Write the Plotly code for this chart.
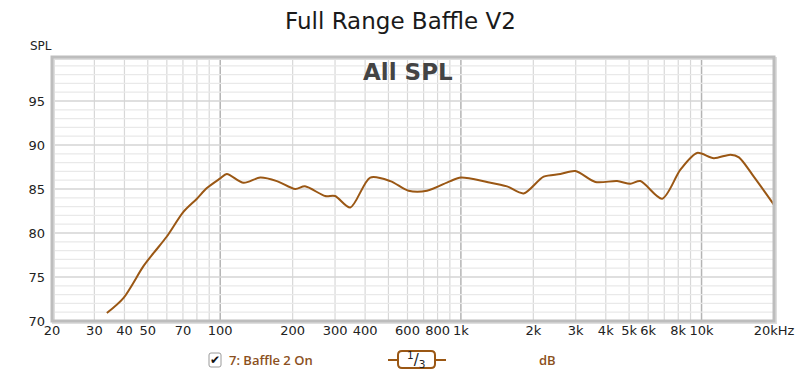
import plotly.graph_objects as go
import math

# ---- data ----
freq_hz = [33.8, 39.6, 47.9, 52.8, 60, 70.3, 80, 88, 100, 106.5, 125, 146.6, 172, 205, 225,
           273, 300, 347, 420, 509, 606, 723, 903, 1000, 1284, 1555, 1823, 2208, 2590, 2990,
           3620, 4457, 5060, 5570, 6856, 8170, 9580, 11240, 13190, 14300, 16480, 20000]
spl_db = [70.9, 72.6, 76.2, 77.7, 79.6, 82.4, 83.9, 85.1, 86.2, 86.7, 85.7, 86.3, 85.9, 85.0, 85.3,
          84.2, 84.2, 82.9, 86.3, 85.9, 84.8, 84.8, 85.9, 86.3, 85.8, 85.3, 84.5, 86.4, 86.7, 87.05,
          85.8, 85.9, 85.6, 85.9, 83.9, 87.2, 89.1, 88.5, 88.9, 88.6, 86.4, 83.2]

x_tick_vals = [20, 30, 40, 50, 70, 100, 200, 300, 400, 600, 800, 1000, 2000, 3000, 4000,
               5000, 6000, 8000, 10000, 20000]
x_tick_text = ["20", "30", "40", "50", "70", "100", "200", "300", "400", "600", "800", "1k",
               "2k", "3k", "4k", "5k", "6k", "8k", "10k", "20kHz"]
y_tick_vals = [70, 75, 80, 85, 90, 95]
y_tick_text = ["70", "75", "80", "85", "90", "95"]

series_name = "7: Baffle 2 On"
line_color = "#9A5714"
text_brown = "#8B5020"
FONT = "DejaVu Sans"

fig = go.Figure()

fig.add_trace(go.Scatter(
    x=freq_hz, y=spl_db, mode="lines", name=series_name,
    line=dict(color=line_color, width=2, shape="spline", smoothing=0.8),
    showlegend=False, hoverinfo="skip"))

W, H = 800, 376
L, R, T, B = 52, 26, 57, 55
pw, ph = W - L - R, H - T - B
def px(xp):
    return (xp - L) / pw
def py(yp):
    return (H - B - yp) / ph

def rounded_rect(x0, y0, x1, y1, r):
    pts = [
        f"M {px(x0 + r)},{py(y0)}",
        f"L {px(x1 - r)},{py(y0)}",
        f"Q {px(x1)},{py(y0)} {px(x1)},{py(y0 + r)}",
        f"L {px(x1)},{py(y1 - r)}",
        f"Q {px(x1)},{py(y1)} {px(x1 - r)},{py(y1)}",
        f"L {px(x0 + r)},{py(y1)}",
        f"Q {px(x0)},{py(y1)} {px(x0)},{py(y1 - r)}",
        f"L {px(x0)},{py(y0 + r)}",
        f"Q {px(x0)},{py(y0)} {px(x0 + r)},{py(y0)}",
        "Z",
    ]
    return " ".join(pts)

shapes = []
# vertical grid lines
grid_freqs = []
for dec in [10, 100, 1000, 10000]:
    for m in range(1, 10):
        f = dec * m
        if 20 <= f <= 20000:
            grid_freqs.append(f)
for f in grid_freqs:
    major = f in (100, 1000, 10000)
    shapes.append(dict(type="line", xref="x", yref="paper", x0=f, x1=f, y0=0, y1=1,
                       line=dict(color="#b4b4b4" if major else "#d8d8d8", width=1.5 if major else 1.2),
                       layer="below"))
# horizontal grid lines
for v in range(71, 100):
    major = v % 5 == 0
    shapes.append(dict(type="line", xref="paper", yref="y", x0=0, x1=1, y0=v, y1=v,
                       line=dict(color="#d4d4d4" if major else "#e9e9e9", width=1.5 if major else 1.2),
                       layer="below"))
# frame (shadow + border)
shapes.append(dict(type="rect", xref="paper", yref="paper", x0=px(L + 1.5), x1=px(W - R + 1.5), y0=py(H - B + 1.5), y1=py(T + 1.5),
                   line=dict(color="#dedede", width=3), layer="above"))
shapes.append(dict(type="rect", xref="paper", yref="paper", x0=0, x1=1, y0=0, y1=1,
                   line=dict(color="#bdbdbd", width=3), layer="above"))

# checkbox
shapes.append(dict(type="path", xref="paper", yref="paper", path=rounded_rect(209, 353, 221, 367, 2),
                   line=dict(color="#9a9a9a", width=1), fillcolor="white"))
# smoothing box
shapes.append(dict(type="line", xref="paper", yref="paper", x0=px(388), x1=px(398), y0=py(360), y1=py(360),
                   line=dict(color=line_color, width=2)))
shapes.append(dict(type="line", xref="paper", yref="paper", x0=px(435), x1=px(446), y0=py(360), y1=py(360),
                   line=dict(color=line_color, width=2)))
shapes.append(dict(type="path", xref="paper", yref="paper", path=rounded_rect(398, 351, 435, 368, 4),
                   line=dict(color=line_color, width=2), fillcolor="white"))

annotations = [
    dict(text="Full Range Baffle V2", xref="paper", yref="paper", x=px(400), y=py(21),
         showarrow=False, font=dict(family=FONT, size=23, color="#1a1a1a"), xanchor="center", yanchor="middle"),
    dict(text="<b>All SPL</b>", xref="paper", yref="paper", x=px(408), y=py(72),
         showarrow=False, font=dict(family=FONT, size=23, color="#444444"), xanchor="center", yanchor="middle"),
    dict(text="SPL", xref="paper", yref="paper", x=px(28), y=py(46),
         showarrow=False, font=dict(family=FONT, size=12, color="#222222"), xanchor="left", yanchor="middle"),
    dict(text="✔", xref="paper", yref="paper", x=px(215), y=py(360),
         showarrow=False, font=dict(family=FONT, size=12, color="#111111"), xanchor="center", yanchor="middle"),
    dict(text=series_name, xref="paper", yref="paper", x=px(227), y=py(360),
         showarrow=False, font=dict(family="Open Sans", size=13, color=text_brown, weight=600),
         xanchor="left", yanchor="middle"),
    dict(text="<sup>1</sup>/<sub>3</sub>", xref="paper", yref="paper", x=px(416), y=py(359),
         showarrow=False, font=dict(family=FONT, size=15, color="#222222"), xanchor="center", yanchor="middle"),
    dict(text="dB", xref="paper", yref="paper", x=px(547), y=py(360),
         showarrow=False, font=dict(family="Open Sans", size=13, color=text_brown, weight=600),
         xanchor="center", yanchor="middle"),
]

fig.update_layout(
    width=W, height=H,
    margin=dict(l=L, r=R, t=T, b=B, pad=0, autoexpand=False),
    paper_bgcolor="white", plot_bgcolor="white",
    shapes=shapes, annotations=annotations,
    font=dict(family=FONT, size=12, color="#222222"),
    xaxis=dict(type="log", range=[math.log10(20), math.log10(20000)], automargin=False,
               tickvals=x_tick_vals, ticktext=x_tick_text, showgrid=False, zeroline=False,
               ticks="", tickfont=dict(family=FONT, size=13, color="#222222"), fixedrange=True),
    yaxis=dict(range=[70, 100], tickvals=y_tick_vals, ticktext=y_tick_text, showgrid=False,
               zeroline=False, ticks="", ticklabelstandoff=6, automargin=False,
               tickfont=dict(family=FONT, size=13, color="#222222"), fixedrange=True),
)

fig.write_html("out.html", config={"displayModeBar": False},
               post_script="document.body.style.margin='0';document.body.style.overflow='hidden';")
